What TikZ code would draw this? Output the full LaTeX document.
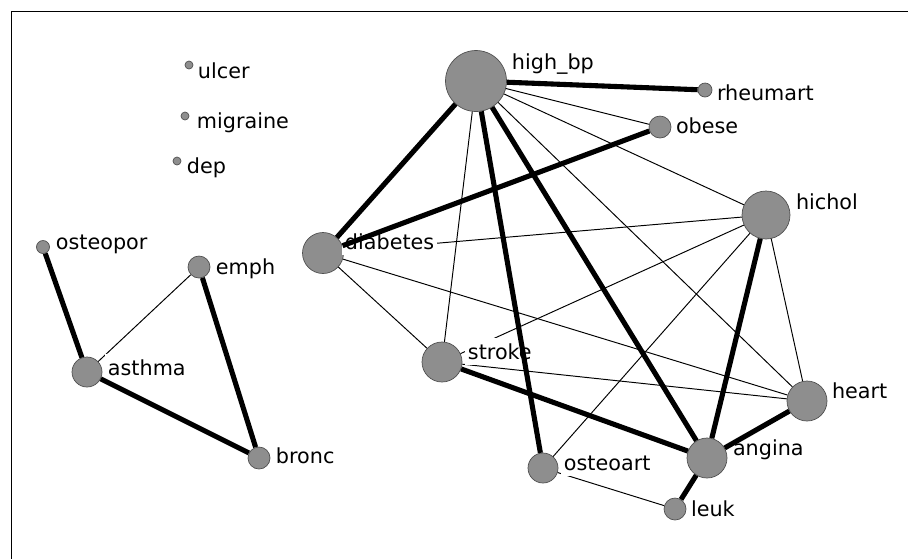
\documentclass[tikz,border=0pt]{standalone}
\usepackage{fontspec}
\setmainfont{DejaVu Sans}
\usetikzlibrary{positioning}

\definecolor{nodegray}{RGB}{142,142,142}
\definecolor{rimgray}{RGB}{80,80,80}

\tikzset{
  vtx/.style={circle,draw=rimgray,fill=nodegray,line width=0.4pt,inner sep=0pt},
  lbl/.style={anchor=base west,inner xsep=1.5pt,inner ysep=3pt,fill=white,text=black,
    font=\fontsize{11.8pt}{14pt}\selectfont},
  strong/.style={line width=2.9pt},
  weak/.style={line width=0.55pt}
}

\begin{document}
\begin{tikzpicture}[x=0.02cm,y=-0.02cm]
            \useasboundingbox (0,0) rectangle (908,559);
            \draw[line width=1pt] (11.5,559) -- (11.5,11.5) -- (908,11.5);

            \node [vtx,minimum size=0.16cm] (ulcer) at (189,65) {};
            \node [vtx,minimum size=0.16cm] (migraine) at (185,116) {};
            \node [vtx,minimum size=0.16cm] (dep) at (177,161) {};
            \node [vtx,minimum size=0.26cm] (osteopor) at (43,247) {};
            \node [vtx,minimum size=0.44cm] (emph) at (199,267) {};
            \node [vtx,minimum size=0.6cm] (asthma) at (87,372) {};
            \node [vtx,minimum size=0.44cm] (bronc) at (259,458) {};
            \node [vtx,minimum size=0.82cm] (diab) at (323,253) {};
            \node [vtx,minimum size=0.8cm] (stroke) at (442,362) {};
            \node [vtx,minimum size=1.22cm] (highbp) at (476,81) {};
            \node [vtx,minimum size=0.28cm] (rheum) at (705,90) {};
            \node [vtx,minimum size=0.44cm] (obese) at (660,127) {};
            \node [vtx,minimum size=0.96cm] (hichol) at (766,215) {};
            \node [vtx,minimum size=0.8cm] (heart) at (807,401) {};
            \node [vtx,minimum size=0.8cm] (angina) at (707,458) {};
            \node [vtx,minimum size=0.6cm] (osteoart) at (543,468) {};
            \node [vtx,minimum size=0.44cm] (leuk) at (675,509) {};

            % weak links
            \path[weak]
            (emph) edge (asthma)
            (highbp) edge (obese)
            (highbp) edge (hichol)
            (highbp) edge (heart)
            (highbp) edge (stroke)
            (diab) edge (hichol)
            (diab) edge (heart)
            (diab) edge (stroke)
            (stroke) edge (hichol)
            (stroke) edge (heart)
            (hichol) edge (heart)
            (hichol) edge (osteoart)
            (osteoart) edge (leuk)
            ;

            \node [lbl] (ulcer-l) at (195,78) {ulcer};
            \node [lbl] (migraine-l) at (194,128) {migraine};
            \node [lbl] (dep-l) at (184,173) {dep};
            \node [lbl] (osteopor-l) at (53,249) {osteopor};
            \node [lbl] (emph-l) at (213,274) {emph};
            \node [lbl] (asthma-l) at (105,375) {asthma};
            \node [lbl] (bronc-l) at (273,463) {bronc};
            \node [lbl] (diab-l) at (342,249) {diabetes};
            \node [lbl] (stroke-l) at (465,359) {stroke};
            \node [lbl] (highbp-l) at (509,69) {high\_bp};
            \node [lbl] (rheum-l) at (714,100) {rheumart};
            \node [lbl] (obese-l) at (673,133) {obese};
            \node [lbl] (hichol-l) at (793,209) {hichol};
            \node [lbl] (heart-l) at (829,398) {heart};
            \node [lbl] (angina-l) at (730,455) {angina};
            \node [lbl] (osteoart-l) at (561,470) {osteoart};
            \node [lbl] (leuk-l) at (688,516) {leuk};

            % strong links
            \path[strong]
            (osteopor) edge (asthma)
            (asthma) edge (bronc)
            (emph) edge (bronc)
            (highbp) edge (rheum)
            (highbp) edge (diab)
            (diab) edge (obese)
            (highbp) edge (osteoart)
            (highbp) edge (angina)
            (hichol) edge (angina)
            (stroke) edge (angina)
            (heart) edge (angina)
            (angina) edge (leuk)
            ;

        \end{tikzpicture}
\end{document}
